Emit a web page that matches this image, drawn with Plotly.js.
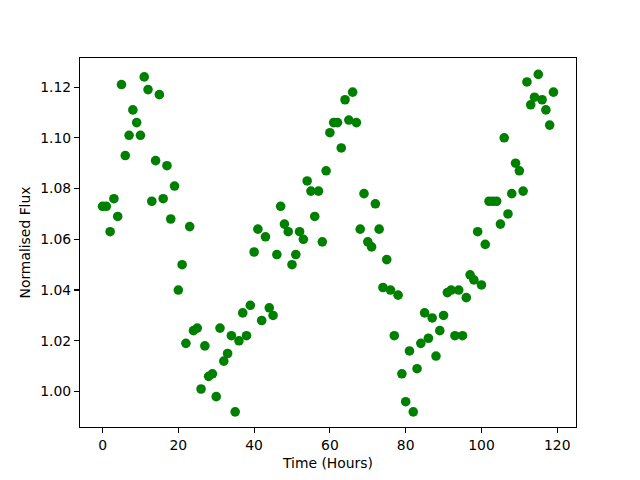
<!DOCTYPE html>
<html>
<head>
<meta charset="utf-8">
<script src="https://cdn.plot.ly/plotly-3.0.1.min.js"></script>
<style>html,body{margin:0;padding:0;background:#fff;}#plot{width:640px;height:480px;}</style>
</head>
<body>
<div id="plot"></div>
<script>
const timeHours = [];
for (let i = 0; i < 120; i++) timeHours.push(i);
const normalisedFlux = [
  1.073, 1.073, 1.063, 1.076, 1.069, 1.121, 1.093, 1.101, 1.111, 1.106,
  1.101, 1.124, 1.119, 1.075, 1.091, 1.117, 1.076, 1.089, 1.068, 1.081,
  1.040, 1.050, 1.019, 1.065, 1.024, 1.025, 1.001, 1.018, 1.006, 1.007,
  0.998, 1.025, 1.012, 1.015, 1.022, 0.992, 1.020, 1.031, 1.022, 1.034,
  1.055, 1.064, 1.028, 1.061, 1.033, 1.030, 1.054, 1.073, 1.066, 1.063,
  1.050, 1.054, 1.063, 1.060, 1.083, 1.079, 1.069, 1.079, 1.059, 1.087,
  1.102, 1.106, 1.106, 1.096, 1.115, 1.107, 1.118, 1.106, 1.064, 1.078,
  1.059, 1.057, 1.074, 1.064, 1.041, 1.052, 1.040, 1.022, 1.038, 1.007,
  0.996, 1.016, 0.992, 1.009, 1.019, 1.031, 1.021, 1.029, 1.014, 1.024,
  1.030, 1.039, 1.040, 1.022, 1.040, 1.022, 1.037, 1.046, 1.044, 1.063,
  1.042, 1.058, 1.075, 1.075, 1.075, 1.066, 1.100, 1.070, 1.078, 1.090,
  1.087, 1.079, 1.122, 1.113, 1.116, 1.125, 1.115, 1.111, 1.105, 1.118
];
const xTicks = [0, 20, 40, 60, 80, 100, 120];
const yTicks = [1.00, 1.02, 1.04, 1.06, 1.08, 1.10, 1.12];

const font = {family: 'DejaVu Sans, sans-serif', size: 13.9, color: '#000'};
Plotly.newPlot('plot', [{
  x: timeHours, y: normalisedFlux, type: 'scatter', mode: 'markers',
  marker: {color: '#008000', size: 9.6, line: {width: 0}},
  hoverinfo: 'skip'
}], {
  width: 640, height: 480,
  margin: {l: 80, r: 64, t: 58, b: 53, pad: 0},
  paper_bgcolor: '#fff', plot_bgcolor: '#fff',
  font: font,
  showlegend: false,
  xaxis: {
    range: [-5.95, 124.95], tickvals: xTicks, ticktext: xTicks.map(String),
    ticks: 'outside', ticklen: 4.9, tickwidth: 1.1, tickcolor: '#000',
    showline: true, linecolor: '#000', linewidth: 1.1, mirror: true,
    showgrid: false, zeroline: false, automargin: false,
    tickfont: font,
    title: {text: 'Time (Hours)', font: font, standoff: 6}
  },
  yaxis: {
    range: [0.98603, 1.13145], tickvals: yTicks, ticktext: yTicks.map(v => v.toFixed(2)),
    ticks: 'outside', ticklen: 4.9, tickwidth: 1.1, tickcolor: '#000',
    showline: true, linecolor: '#000', linewidth: 1.1, mirror: true,
    showgrid: false, zeroline: false, automargin: false,
    tickfont: font,
    title: {text: 'Normalised Flux', font: font, standoff: 6}
  }
}, {staticPlot: true, displayModeBar: false});
</script>
</body>
</html>
